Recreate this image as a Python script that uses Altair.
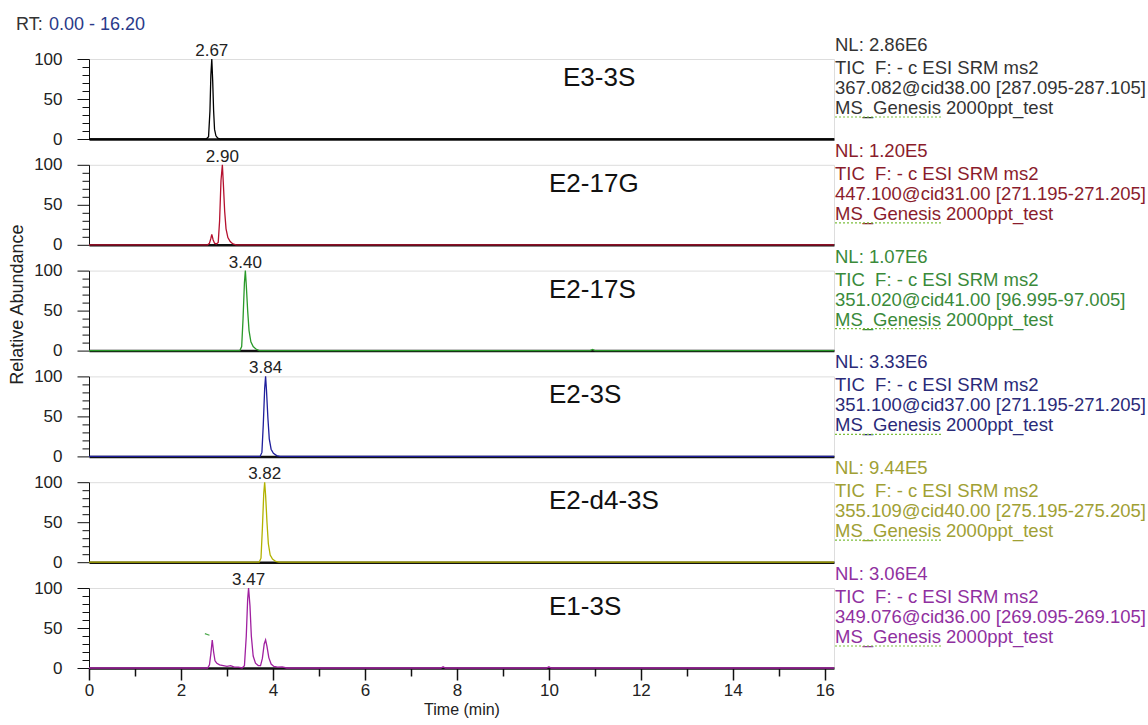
import altair as alt
import pandas as pd

FONT = "Liberation Sans"
W, H = 745, 80

# ---------------- data ----------------
compounds = ["E3-3S", "E2-17G", "E2-17S", "E2-3S", "E2-d4-3S", "E1-3S"]
peak_times = [2.67, 2.90, 3.40, 3.84, 3.82, 3.47]
peak_labels = ["2.67", "2.90", "3.40", "3.84", "3.82", "3.47"]
nl_values = ["NL: 2.86E6", "NL: 1.20E5", "NL: 1.07E6", "NL: 3.33E6", "NL: 9.44E5", "NL: 3.06E4"]
scan_filter = "TIC\u00a0 F: - c ESI SRM ms2"
transitions = [
    "367.082@cid38.00 [287.095-287.105]",
    "447.100@cid31.00 [271.195-271.205]",
    "351.020@cid41.00 [96.995-97.005]",
    "351.100@cid37.00 [271.195-271.205]",
    "355.109@cid40.00 [275.195-275.205]",
    "349.076@cid36.00 [269.095-269.105]",
]
file_label = "MS_Genesis 2000ppt_test"
rt_range = "0.00 - 16.20"
x_major = [0, 2, 4, 6, 8, 10, 12, 14, 16]
x_minor = [1, 3, 5, 7, 9, 11, 13, 15]
y_major = [0, 50, 100]
y_minor = [10, 20, 30, 40, 60, 70, 80, 90]

e3_3s_t = [0.0, 2.55, 2.60, 2.63, 2.65, 2.67, 2.69, 2.71, 2.73, 2.76, 2.80, 2.86, 16.2]
e3_3s_y = [0, 0, 3, 35, 80, 100, 72, 35, 12, 4, 1, 0, 0]

e2_17g_t = [0.0, 2.58, 2.62, 2.65, 2.67, 2.70, 2.73, 2.77, 2.81, 2.84, 2.87, 2.90, 2.92, 2.95, 2.98, 3.02, 3.07, 3.13, 3.20, 16.2]
e2_17g_y = [0, 0, 2, 8, 13, 6, 2, 1, 3, 30, 80, 100, 78, 42, 20, 9, 4, 1, 0, 0]

e2_17s_t = [0.0, 3.28, 3.32, 3.35, 3.38, 3.40, 3.42, 3.45, 3.48, 3.52, 3.57, 3.63, 3.70, 10.9, 10.95, 11.0, 16.2]
e2_17s_y = [0, 0, 5, 40, 85, 100, 82, 50, 25, 11, 5, 2, 0, 0, 1.5, 0, 0]

e2_3s_t = [0.0, 3.72, 3.76, 3.79, 3.82, 3.84, 3.86, 3.89, 3.92, 3.96, 4.01, 4.08, 4.15, 16.2]
e2_3s_y = [0, 0, 5, 40, 85, 100, 82, 48, 22, 9, 4, 1, 0, 0]

e2_d4_3s_t = [0.0, 3.70, 3.74, 3.77, 3.80, 3.82, 3.84, 3.87, 3.90, 3.94, 3.99, 4.06, 4.13, 16.2]
e2_d4_3s_y = [0, 0, 5, 42, 86, 100, 84, 50, 23, 9, 4, 1, 0, 0]

e1_3s_t = [0.0, 2.58, 2.62, 2.65, 2.68, 2.71, 2.74, 2.78, 2.84, 2.92, 3.00, 3.08, 3.16, 3.25, 3.33,
           3.38, 3.42, 3.45, 3.47, 3.50, 3.53, 3.57, 3.62, 3.68, 3.73, 3.77, 3.81, 3.84, 3.87, 3.91,
           3.96, 4.02, 4.10, 4.20, 4.30, 7.65, 7.70, 7.75, 9.95, 10.0, 10.05, 16.2]
e1_3s_y = [0, 0, 4, 18, 35, 20, 9, 6, 4, 3, 2, 3, 1, 1, 0,
           3, 40, 86, 100, 78, 40, 15, 6, 3, 3, 12, 30, 35, 27, 13,
           5, 2, 1, 1.5, 0, 0, 1.5, 0, 0, 1.5, 0, 0]

e1_3s_artifact_t = [2.52, 2.62]
e1_3s_artifact_y = [43, 41]

panel_t = [e3_3s_t, e2_17g_t, e2_17s_t, e2_3s_t, e2_d4_3s_t, e1_3s_t]
panel_y = [e3_3s_y, e2_17g_y, e2_17s_y, e2_3s_y, e2_d4_3s_y, e1_3s_y]

line_colors = ["#000000", "#b5102e", "#2a9a2a", "#1f1f9c", "#b2b200", "#a020a0"]
text_colors = ["#333333", "#8a1c2c", "#3a8a3a", "#2a2a78", "#a0a034", "#9030a0"]

XSCALE = alt.Scale(domain=[0, 16.2], nice=False, zero=False)
YSCALE = alt.Scale(domain=[0, 100], nice=False)


def txt(text, x, y, color, size, align="left", baseline="middle", angle=0):
    return alt.Chart(pd.DataFrame({"text": [text]})).mark_text(
        align=align, baseline=baseline, font=FONT, fontSize=size, color=color, angle=angle
    ).encode(text="text:N", x=alt.value(x), y=alt.value(y))


def make_panel(i):
    last = i == 5
    if last:
        xaxis = alt.Axis(
            values=x_major, orient="bottom", tickSize=12,
            labelFlush=False, labelOverlap=False, grid=False,
            domainColor="#111111", domainWidth=2.5, tickColor="#111111", tickWidth=1.5,
            labelFont=FONT, labelFontSize=17, labelColor="#222222", labelPadding=2,
            title="Time (min)", titleFont=FONT, titleFontSize=16, titleFontWeight="normal",
            titleColor="#222222", titlePadding=3,
        )
    else:
        xaxis = alt.Axis(labels=False, ticks=False, title=None, grid=False,
                         domainColor="#111111", domainWidth=2.5)
    yaxis = alt.Axis(
        values=y_major, orient="left", tickSize=12,
        labelFlush=False, labelOverlap=False, grid=False, title=None,
        domainColor="#111111", tickColor="#111111",
        labelFont=FONT, labelFontSize=17, labelColor="#222222", labelPadding=15,
    )
    df = pd.DataFrame({"t": panel_t[i], "y": panel_y[i]})
    line = alt.Chart(df).mark_line(color=line_colors[i], strokeWidth=1.3).encode(
        x=alt.X("t:Q", scale=XSCALE, axis=xaxis),
        y=alt.Y("y:Q", scale=YSCALE, axis=yaxis),
    )
    ymin = alt.Chart(pd.DataFrame({"v": y_minor})).mark_point(opacity=0).encode(
        y=alt.Y("v:Q", scale=YSCALE, axis=alt.Axis(
            values=y_minor, orient="left", tickSize=7, labels=False, domain=False,
            grid=False, title=None, tickColor="#111111")),
    )
    ann = pd.DataFrame({"t": [peak_times[i]], "y": [100], "label": [peak_labels[i]]})
    peak = alt.Chart(ann).mark_text(
        baseline="alphabetic", dy=-3, font=FONT, fontSize=17, color="#222222"
    ).encode(
        x=alt.X("t:Q", scale=XSCALE, axis=None),
        y=alt.Y("y:Q", scale=YSCALE, axis=None),
        text="label:N",
    )

    comp_x = 474 if i == 0 else 460
    layers = [
        line,
        ymin,
        peak,
        txt(compounds[i], comp_x, 19, "#111111", 26),
        txt(nl_values[i], W + 1, -14, text_colors[i], 18.5),
        txt(scan_filter, W + 1, 9, text_colors[i], 18.5),
        txt(transitions[i], W + 1, 29, text_colors[i], 18.5),
        txt(file_label, W + 1, 49, text_colors[i], 18.5),
        alt.Chart(pd.DataFrame({"a": [0]})).mark_rule(
            color="#7cbf3c", strokeDash=[2, 2], strokeWidth=1.2
        ).encode(x=alt.value(W + 1), x2=alt.value(W + 108), y=alt.value(58)),
    ]
    if i == 0:
        layers.append(txt("RT:", -73, -34, "#333333", 18))
        layers.append(txt(rt_range, -40, -34, "#2a3a8a", 18))
    if i == 2:
        layers.append(txt("Relative Abundance", -71, 34, "#222222", 18,
                          align="center", angle=270))
    if last:
        art = pd.DataFrame({"t": e1_3s_artifact_t, "y": e1_3s_artifact_y})
        layers.append(alt.Chart(art).mark_line(color="#4aa84a", strokeWidth=1.2).encode(
            x=alt.X("t:Q", scale=XSCALE, axis=None),
            y=alt.Y("y:Q", scale=YSCALE, axis=None)))
        layers.append(alt.Chart(pd.DataFrame({"v": x_minor})).mark_point(opacity=0).encode(
            x=alt.X("v:Q", scale=XSCALE, axis=alt.Axis(
                values=x_minor, orient="bottom", tickSize=8, labels=False, domain=False,
                grid=False, title=None, tickColor="#111111", tickWidth=1.5)),
        ))
    return alt.layer(*layers).resolve_axis(x="independent", y="independent").properties(
        width=W, height=H)


chart = alt.vconcat(*[make_panel(i) for i in range(6)], spacing=25.8, bounds="flush").properties(
    padding={"left": 8, "top": 15, "right": 0, "bottom": 0}
).configure_view(strokeWidth=0).configure(font=FONT)

chart.save("out.html", embed_options={"renderer": "svg", "actions": False})
